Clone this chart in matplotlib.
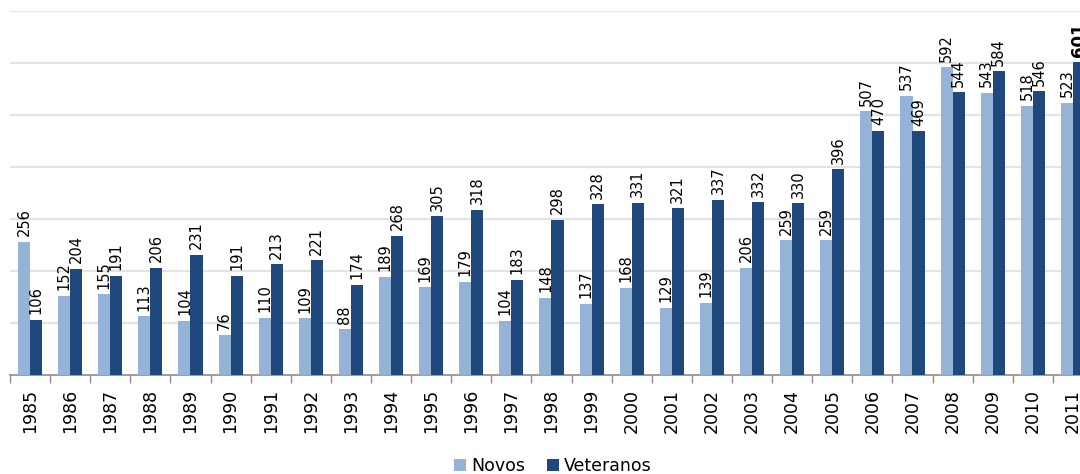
import matplotlib
matplotlib.use("Agg")
import matplotlib.pyplot as plt
import numpy as np

years = ["1985", "1986", "1987", "1988", "1989", "1990", "1991", "1992", "1993", "1994",
         "1995", "1996", "1997", "1998", "1999", "2000", "2001", "2002", "2003", "2004",
         "2005", "2006", "2007", "2008", "2009", "2010", "2011"]
novos = [256, 152, 155, 113, 104, 76, 110, 109, 88, 189, 169, 179, 104, 148, 137, 168,
         129, 139, 206, 259, 259, 507, 537, 592, 543, 518, 523]
veteranos = [106, 204, 191, 206, 231, 191, 213, 221, 174, 268, 305, 318, 183, 298, 328,
             331, 321, 337, 332, 330, 396, 470, 469, 544, 584, 546, 601]

c_novos = "#95B3D7"
c_vet = "#1F497D"

fig = plt.figure(figsize=(10.8, 4.74), dpi=100)
ax = fig.add_axes([10/1080, 99/474, 1083/1080, 364/474])

x = np.arange(len(years))
w = 0.3
b1 = ax.bar(x - w/2, novos, w, color=c_novos, label="Novos", zorder=3)
b2 = ax.bar(x + w/2, veteranos, w, color=c_vet, label="Veteranos", zorder=3)

for i, (bar, v) in enumerate(zip(b1, novos)):
    ax.annotate(str(v), (bar.get_x() + bar.get_width()/2, v), xytext=(0, 4),
                textcoords="offset points", rotation=90, ha="center", va="bottom",
                fontsize=10.5, color="black")
for i, (bar, v) in enumerate(zip(b2, veteranos)):
    last = i == len(veteranos) - 1
    ax.annotate(str(v), (bar.get_x() + bar.get_width()/2, v), xytext=(0, 4),
                textcoords="offset points", rotation=90, ha="center", va="bottom",
                fontsize=12 if last else 10.5, fontweight="bold" if last else "normal",
                color="black")

ax.set_xlim(-0.5, len(years) - 0.5)
ax.set_ylim(0, 700)
ax.set_yticks(np.arange(100, 701, 100))
ax.yaxis.grid(True, color="#E3E3E3", linewidth=1.5, zorder=0)
ax.tick_params(axis="y", left=False, labelleft=False)

ax.set_xticks(x)
ax.set_xticklabels(years, rotation=90, fontsize=12.5)
ax.tick_params(axis="x", which="major", length=0, pad=10)
ax.set_xticks(np.arange(-0.5, len(years), 1), minor=True)
ax.tick_params(axis="x", which="minor", length=6, color="#8C8C8C", width=1)

for s in ["top", "right", "left"]:
    ax.spines[s].set_visible(False)
ax.spines["bottom"].set_color("#8C8C8C")
ax.spines["bottom"].set_linewidth(1.2)

fig.legend(handles=[b1, b2], labels=["Novos", "Veteranos"], loc="lower center",
           bbox_to_anchor=(0.512, -0.035), ncol=2, frameon=False, fontsize=12.5,
           handlelength=0.7, handleheight=0.7, handletextpad=0.3, columnspacing=1.2)

fig.savefig("out.png", dpi=100)
